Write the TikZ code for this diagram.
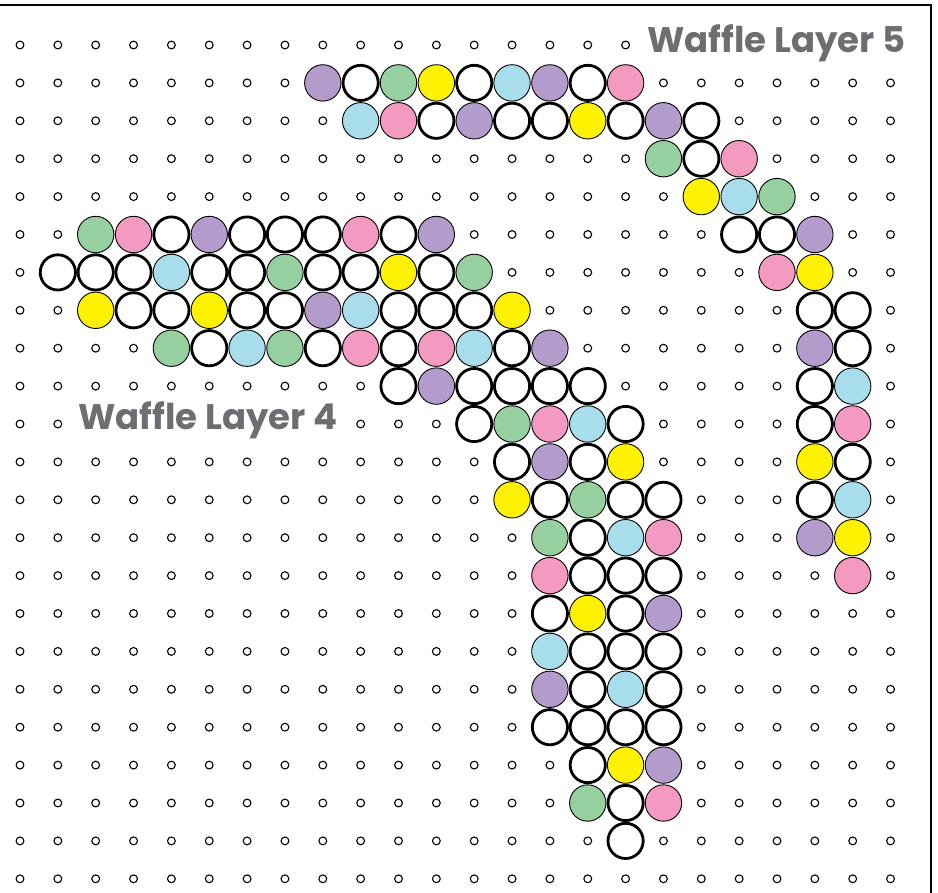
\documentclass[tikz,border=0pt]{standalone}
\usepackage{fontspec}
\newfontfamily\titrefont{Poppins}
\usepackage{tikz}
\definecolor{lila}{HTML}{B39CCB}
\definecolor{vert}{HTML}{97D0A0}
\definecolor{jaune}{HTML}{FFF200}
\definecolor{bleu}{HTML}{A8DDEB}
\definecolor{rose}{HTML}{F49AC1}
\definecolor{gristexte}{HTML}{6D6E71}
\tikzset{trou/.style={draw=black,line width=1.1pt,fill=white,radius=3.9pt},perle/.style={draw=black,line width=0.9pt,radius=18.2pt},pW/.style={perle,fill=white,line width=2.8pt,radius=17.6pt},pP/.style={perle,fill=lila},pG/.style={perle,fill=vert},pY/.style={perle,fill=jaune},pB/.style={perle,fill=bleu},pK/.style={perle,fill=rose},titre/.style={font=\titrefont\bfseries\fontsize{35.5}{38}\selectfont,text=gristexte,fill=white,inner sep=1pt,anchor=base west}}

\begin{document}
\begin{tikzpicture}[x=1pt,y=-1pt]
\useasboundingbox (0,0) rectangle (938,893);
\draw[line width=1.6pt] (0,5) -- (931,5) -- (931,893);
% trous du plateau
\foreach \r in {0,...,22}
  \foreach \c in {0,...,23}
    \draw[trou] ({20+37.85*\c},{45+37.9*\r}) circle;
\node[titre] (titre5) at (646,53) {Waffle Layer 5};
\node[titre] (titre4) at (77,430) {Waffle Layer 4};
% couche 5
\foreach \r/\d/\seq in {1/8/{P,W,G,Y,W,B,P,W,K},2/9/{B,K,W,P,W,W,Y,W,P,W},3/17/{G,W,K},4/18/{Y,B,G},5/19/{W,W,P},6/20/{K,Y},7/21/{W,W},8/21/{P,W},9/21/{W,B},10/21/{W,K},11/21/{Y,W},12/21/{W,B},13/21/{P,Y},14/22/{K}}
  \foreach \k [count=\i from 0] in \seq
    \draw[p\k] ({20+37.85*(\d+\i)},{45+37.9*\r}) circle;
% couche 4
\foreach \r/\d/\seq in {5/2/{G,K,W,P,W,W,W,K,W,P},6/1/{W,W,W,B,W,W,G,W,W,Y,W,G},7/2/{Y,W,W,Y,W,W,P,B,W,W,W,Y},8/4/{G,W,B,G,W,K,W,K,B,W,P},9/10/{W,P,W,W,W,W},10/12/{W,G,K,B,W},11/13/{W,P,W,Y},12/13/{Y,W,G,W,W},13/14/{G,W,B,K},14/14/{K,W,W,W},15/14/{W,Y,W,P},16/14/{B,W,W,W},17/14/{P,W,B,W},18/14/{W,W,W,W},19/15/{W,Y,P},20/15/{G,W,K},21/16/{W}}
  \foreach \k [count=\i from 0] in \seq
    \draw[p\k] ({20+37.85*(\d+\i)},{45+37.9*\r}) circle;
\end{tikzpicture}
\end{document}
